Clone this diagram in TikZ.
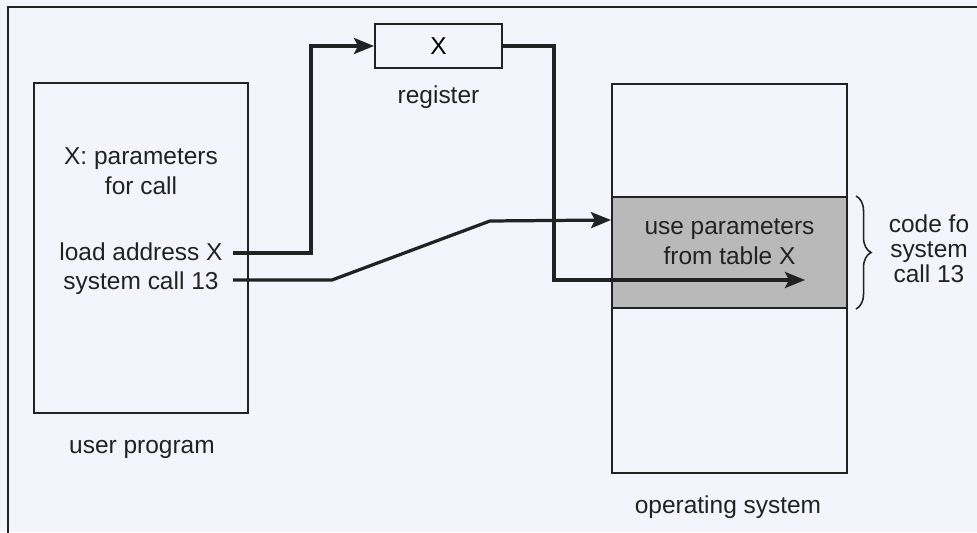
\documentclass[tikz,border=0pt]{standalone}
\usepackage{fontspec}
\setmainfont{Liberation Sans}
\usepackage{tikz}
\usetikzlibrary{arrows.meta,positioning,calc,decorations.pathreplacing}
\definecolor{paper}{RGB}{244,244,252}
\definecolor{inkline}{RGB}{34,34,34}
\definecolor{bandgray}{RGB}{185,185,185}
\newcommand\diagfont{\fontsize{17.4pt}{21.3pt}\selectfont}
\newcommand\bracefont{\fontsize{17.4pt}{17.8pt}\selectfont}
\tikzset{
  membox/.style={
    rectangle, draw=inkline, line width=1.4pt, inner sep=0pt
  },
  bandbox/.style={
    rectangle, draw=inkline, line width=1.4pt, fill=bandgray, inner sep=0pt
  },
  boxtext/.style={align=center, font=\diagfont, text=inkline},
  caption/.style={font=\diagfont, text=inkline, anchor=base},
  callflow/.style={-{Stealth[length=0.5cm,width=0.4cm,inset=0.1cm]},
    line width=2.3pt, draw=inkline},
  codebrace/.style={decorate, decoration={brace, amplitude=0.375cm},
    line width=1.1pt, draw=inkline}
}

\begin{document}
\begin{tikzpicture}[x=0.025cm, y=0.025cm]
  \useasboundingbox (0,0) rectangle (977,532);
  \fill[paper] (0,0) rectangle (977,532);
  \draw[inkline, line width=1.4pt] (8,-20) |- (1000,525);

  % boxes
  \node[membox, minimum width=5.35cm, minimum height=8.25cm] (uprog) at (141,284) {};
  \node[membox, minimum width=3.175cm, minimum height=1.1cm, font=\diagfont] (reg) at (438.5,486) {X};
  \node[membox, minimum width=5.875cm, minimum height=9.725cm] (os) at (729.5,253.5) {};
  \node[bandbox, minimum width=5.875cm, minimum height=2.775cm] (band) at (729.5,279.5) {};

  % texts
  \node[boxtext] (parms) at (141,360.5) {X: parameters\\for call};
  \node[boxtext] (calls) at (141,263.3) {load address X\\system call 13};
  \node[boxtext] (usetxt) at (729.5,290.3) {use parameters\\from table X};
  \node[caption] (uplbl) at ($(uprog.south)+(1,-39)$) {user program};
  \node[caption] (reglbl) at ($(reg.south)+(0,-35)$) {register};
  \node[caption] (oslbl) at ($(os.south)+(-1.5,-39)$) {operating system};
  \node[boxtext, font=\bracefont] (codelbl) at (929,283) {code fo\\system\\call 13};

  % connectors
  \coordinate (ldx) at (233,279);
  \coordinate (scx) at (233,252);
  \coordinate (bandin) at ($(band.north west)+(0,-24)$);
  \coordinate (osin) at ($(band.south)+(75.5,29)$);
  \draw[callflow] (ldx) -- ++(78,0) |- (reg.west);
  \draw[callflow] (reg.east) -- ++(51,0) |- (osin);
  \draw[callflow] (scx) -- ++(99,0) -- ++(158,59) -- (bandin);
  \draw[codebrace] ($(band.north east)+(8,0)$) -- ($(band.south east)+(8,0)$);
\end{tikzpicture}
\end{document}
